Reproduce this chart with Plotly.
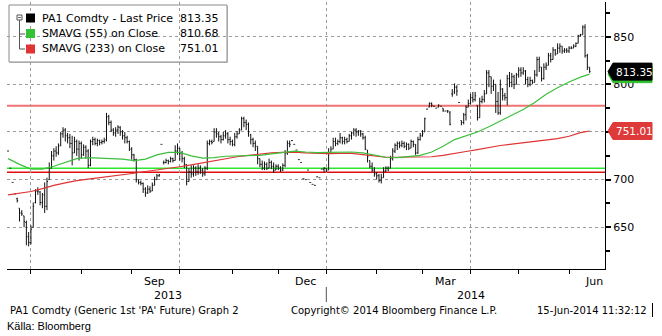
import pandas as pd
import plotly.graph_objects as go

# ---------------------------------------------------------------------------
# Data: PA1 Comdty (generic 1st palladium future), daily bars Jun-2013 .. Jun-2014
# ---------------------------------------------------------------------------
holidays = ["2013-07-04", "2013-11-28", "2013-12-25", "2014-01-01", "2014-04-18"]
trade_days = pd.bdate_range("2013-06-17", "2014-06-13")
trade_days = trade_days[~trade_days.isin(pd.to_datetime(holidays))]

open_px = [
    730, 712, 697, 685, 680, 670, 665, 662, 655, 640,
    634, 650, 676, 688, 687, 676, 684, 672, 700, 712,
    725, 730, 728, 736, 748, 752, 746, 744, 738, 728,
    740, 732, 738, 726, 734, 730, 715, 740, 742, 738,
    741, 739, 740, 742, 766, 760, 752, 749, 752, 755,
    750, 746, 744, 740, 732, 726, 721, 700, 697, 696,
    690, 686, 690, 688, 694, 700, 704, 737, 718, 718,
    720, 719, 722, 720, 730, 733, 728, 722, 716, 698,
    708, 706, 712, 708, 712, 710, 706, 712, 738, 740,
    740, 750, 748, 745, 742, 746, 748, 742, 740, 737,
    745, 748, 752, 764, 760, 758, 747, 742, 738, 735,
    722, 716, 712, 716, 712, 718, 714, 710, 714, 712,
    710, 715, 728, 738, 741, 737, 731, 721, 718, 701,
    700, 710, 697, 695, 694, 703, 702, 711, 711, 712,
    710, 728, 732, 740, 738, 740, 744, 740, 742, 740,
    746, 749, 752, 750, 751, 748, 744, 731, 720, 714,
    710, 706, 704, 699, 702, 709, 712, 712, 722, 730,
    736, 738, 736, 738, 735, 737, 733, 740, 737, 728,
    742, 746, 750, 774, 776, 780, 777, 775, 776, 777,
    775, 772, 772, 770, 790, 792, 797, 781, 762, 760,
    768, 776, 780, 786, 784, 778, 765, 782, 784, 790,
    812, 808, 798, 800, 782, 770, 795, 788, 786, 806,
    802, 808, 800, 810, 815, 812, 814, 805, 800, 804,
    802, 810, 826, 818, 806, 818, 820, 830, 826, 836,
    832, 838, 840, 835, 836, 835, 838, 838, 840, 843,
    851, 852, 860, 830, 818,
]
high_px = [
    730, 712, 697, 685, 681, 670, 668, 662, 657, 645,
    652, 676, 690, 692, 688, 686, 697, 702, 718, 730,
    733, 735, 738, 750, 755, 754, 749, 748, 746, 745,
    742, 741, 740, 737, 736, 732, 742, 745, 744, 743,
    742, 742, 744, 770, 768, 762, 754, 755, 757, 756,
    752, 750, 746, 741, 734, 727, 722, 700, 699, 697,
    692, 694, 693, 697, 703, 706, 706, 737, 720, 722,
    721, 724, 723, 736, 738, 733, 730, 724, 716, 712,
    715, 715, 714, 716, 715, 712, 714, 741, 742, 742,
    754, 754, 750, 747, 750, 752, 750, 745, 742, 749,
    751, 754, 766, 766, 763, 760, 748, 744, 741, 735,
    722, 720, 719, 718, 722, 720, 718, 716, 716, 714,
    717, 731, 741, 741, 741, 737, 731, 721, 718, 701,
    700, 710, 697, 695, 694, 703, 702, 711, 713, 712,
    733, 735, 744, 744, 742, 749, 745, 745, 744, 748,
    750, 754, 754, 752, 752, 749, 746, 731, 720, 718,
    713, 708, 706, 706, 713, 714, 714, 725, 733, 738,
    740, 740, 741, 740, 739, 738, 742, 741, 737, 745,
    749, 752, 765, 774, 781, 781, 777, 775, 779, 777,
    775, 772, 773, 772, 795, 801, 799, 781, 762, 770,
    778, 784, 790, 792, 792, 778, 786, 788, 794, 815,
    815, 808, 805, 800, 792, 805, 796, 791, 810, 813,
    812, 810, 812, 818, 818, 818, 815, 808, 808, 805,
    815, 829, 829, 818, 822, 823, 833, 833, 839, 837,
    843, 843, 840, 838, 838, 840, 840, 842, 844, 852,
    853, 862, 863, 832, 818,
]
low_px = [
    730, 712, 697, 685, 676, 656, 662, 650, 631, 630,
    632, 650, 675, 684, 673, 670, 665, 668, 700, 712,
    720, 724, 726, 735, 744, 740, 738, 733, 715, 728,
    725, 720, 722, 725, 722, 712, 714, 736, 736, 735,
    736, 737, 738, 740, 757, 750, 746, 745, 748, 746,
    742, 738, 738, 730, 721, 719, 697, 695, 694, 686,
    682, 685, 686, 688, 694, 700, 703, 737, 716, 717,
    716, 718, 718, 720, 726, 720, 718, 712, 694, 698,
    702, 703, 704, 705, 706, 703, 704, 710, 736, 737,
    740, 744, 740, 738, 741, 743, 738, 736, 735, 735,
    743, 748, 752, 755, 752, 745, 737, 734, 730, 716,
    713, 710, 710, 710, 712, 711, 707, 710, 710, 708,
    709, 713, 726, 734, 741, 737, 731, 721, 718, 701,
    700, 710, 697, 695, 694, 703, 702, 711, 708, 708,
    710, 728, 732, 735, 736, 738, 737, 737, 738, 740,
    742, 746, 745, 746, 745, 742, 731, 718, 712, 708,
    703, 700, 697, 696, 702, 708, 709, 712, 720, 728,
    731, 733, 734, 733, 731, 731, 733, 734, 726, 727,
    741, 745, 750, 774, 776, 776, 777, 775, 776, 777,
    771, 772, 770, 757, 787, 790, 788, 781, 757, 758,
    762, 776, 779, 781, 782, 762, 765, 780, 781, 790,
    797, 790, 793, 770, 768, 768, 783, 783, 778, 797,
    797, 795, 800, 807, 808, 810, 800, 797, 798, 800,
    802, 808, 813, 803, 805, 815, 820, 823, 826, 830,
    832, 833, 832, 833, 833, 833, 837, 838, 839, 843,
    850, 852, 828, 815, 812,
]
close_px = [
    730, 712, 697, 685, 678, 665, 664, 656, 640, 634,
    648, 672, 688, 688, 676, 684, 672, 698, 712, 725,
    730, 728, 735, 748, 752, 746, 744, 738, 728, 740,
    732, 738, 726, 734, 730, 715, 740, 742, 738, 741,
    739, 740, 741, 766, 760, 752, 749, 752, 755, 750,
    746, 744, 740, 732, 726, 721, 700, 697, 696, 690,
    686, 690, 688, 694, 700, 704, 705, 737, 718, 720,
    719, 722, 720, 730, 733, 728, 722, 716, 698, 708,
    706, 712, 708, 712, 710, 706, 712, 738, 740, 739,
    750, 748, 745, 742, 746, 748, 742, 740, 737, 745,
    748, 752, 764, 760, 758, 750, 742, 738, 735, 722,
    716, 712, 716, 712, 718, 714, 710, 714, 712, 710,
    715, 728, 738, 737, 741, 737, 731, 721, 718, 701,
    700, 710, 697, 695, 694, 703, 702, 711, 712, 710,
    728, 732, 740, 738, 740, 744, 740, 742, 740, 746,
    749, 752, 750, 751, 748, 744, 732, 724, 714, 710,
    706, 704, 699, 702, 709, 712, 710, 722, 730, 736,
    738, 736, 738, 735, 737, 733, 740, 737, 728, 742,
    746, 748, 764, 774, 780, 778, 777, 775, 778, 777,
    773, 772, 772, 758, 790, 797, 793, 781, 760, 768,
    776, 780, 786, 784, 788, 765, 782, 784, 790, 812,
    808, 798, 800, 782, 770, 795, 788, 786, 806, 802,
    808, 800, 810, 815, 812, 814, 805, 800, 804, 802,
    810, 826, 818, 806, 818, 820, 830, 826, 836, 832,
    838, 840, 835, 836, 835, 838, 838, 840, 843, 851,
    852, 860, 830, 818, 813.35,
]

# Moving averages sampled every 5th session (plus the last session)
sma55 = [
    722, 716, 711, 711, 714, 718, 722, 723, 722.5, 722,
    721.5, 720, 721.5, 726, 728.5, 728.5, 725, 722.5, 723, 724.5,
    725, 725, 725.5, 727, 728.5, 730, 729, 728.3, 728.5, 729,
    729, 728, 726, 723.5, 723, 724.5, 725.5, 729, 735, 742,
    746, 750, 755.5, 761.5, 767, 773.5, 781, 789.5, 796.5, 802.5,
    807.5, 810.68,
]
sma233 = [
    684, 685.5, 687.5, 690.5, 694, 696.5, 699, 700.5, 702, 703.2,
    705, 706.7, 708.5, 710, 711.8, 713.5, 715.5, 717.5, 720, 722.3,
    724, 725.5, 727, 728, 728.5, 728.7, 728, 727.5, 727.2, 727.5,
    727.5, 726.2, 725, 723.5, 723.5, 723.8, 723.5, 724, 725.5, 727.8,
    729.5, 731.5, 734, 735.8, 737.3, 738.8, 740, 741.2, 743, 745.5,
    749.3, 751.01,
]
ma_days = list(trade_days[::5]) + [trade_days[-1]]

# Horizontal reference levels drawn on the chart
resistance_level = 777.5
support_levels = [(712.0, "#2ee62e"), (707.7, "#e01010")]

legend_rows = [
    ("PA1 Comdty - Last Price", "813.35", "#000000"),
    ("SMAVG (55) on Close", "810.68", "#33c233"),
    ("SMAVG (233) on Close", "751.01", "#e03333"),
]

y_ticks = [650, 700, 750, 800, 850]
y_tick_text = ["650", "700", "", "800", "850"]   # 750 sits under the SMA flag
y_minor = [625, 675, 725, 775, 825, 875]
quarter_lines = ["2013-07-01", "2013-10-01", "2014-01-02", "2014-04-01"]
month_labels = [("2013-09-16", "Sep"), ("2013-12-18", "Dec"),
                ("2014-03-17", "Mar"), ("2014-06-17", "Jun")]

# ---------------------------------------------------------------------------
W, H = 662, 336
L, R, T, B = 7, 605, 2, 269
FONT = "DejaVu Sans"


def px(x):
    return (x - L) / (R - L)


def py(y):
    return (B - y) / (B - T)


firsts = pd.Series(trade_days, index=trade_days).groupby(trade_days.to_period("M")).first()
month_ticks = [d for d in firsts if d >= pd.Timestamp("2013-07-01")]

fig = go.Figure()

fig.add_trace(go.Scatter(x=ma_days, y=sma233, mode="lines",
                         line=dict(color="#e03333", width=1.2), hoverinfo="skip"))
fig.add_trace(go.Scatter(x=ma_days, y=sma55, mode="lines",
                         line=dict(color="#3cbf3c", width=1.2), hoverinfo="skip"))
fig.add_trace(go.Ohlc(
    x=trade_days, open=open_px, high=high_px, low=low_px, close=close_px,
    increasing=dict(line=dict(color="#111111", width=1)),
    decreasing=dict(line=dict(color="#111111", width=1)),
    tickwidth=0.4,
))

shapes = []
# legend frame
shapes.append(dict(type="rect", xref="paper", yref="paper",
                   x0=px(10), x1=px(228), y0=py(63), y1=py(6),
                   line=dict(width=0), fillcolor="#c8c8c8", layer="below"))
shapes.append(dict(type="rect", xref="paper", yref="paper",
                   x0=px(9), x1=px(227), y0=py(62), y1=py(5),
                   line=dict(color="#8a8a8a", width=1), fillcolor="white", layer="below"))
# tree glyph in the legend
shapes.append(dict(type="rect", xref="paper", yref="paper",
                   x0=px(17), x1=px(22), y0=py(20), y1=py(15),
                   line=dict(color="#555555", width=1), fillcolor="white", layer="above"))
shapes.append(dict(type="line", xref="paper", yref="paper",
                   x0=px(18.2), x1=px(20.8), y0=py(17.5), y1=py(17.5),
                   line=dict(color="#555555", width=1), layer="above"))
shapes.append(dict(type="path", xref="paper", yref="paper",
                   path=f"M {px(19.5)},{py(20)} L {px(19.5)},{py(49)} L {px(25)},{py(49)} "
                        f"M {px(19.5)},{py(34)} L {px(25)},{py(34)}",
                   line=dict(color="#555555", width=1), layer="above"))
# legend colour swatches
for k, (_, _, col) in enumerate(legend_rows):
    yc = 18 + k * 15.5
    shapes.append(dict(type="rect", xref="paper", yref="paper",
                       x0=px(26), x1=px(35), y0=py(yc + 4.5), y1=py(yc - 4.5),
                       line=dict(width=0), fillcolor=col, layer="above"))

# horizontal levels
shapes.append(dict(type="line", xref="paper", yref="y", x0=0, x1=1,
                   y0=resistance_level, y1=resistance_level,
                   line=dict(color="#f07272", width=2.2), layer="below"))
for lvl, col in support_levels:
    shapes.append(dict(type="line", xref="paper", yref="y", x0=0, x1=1,
                       y0=lvl, y1=lvl, line=dict(color=col, width=1.6), layer="below"))

# value flags on the right axis
tag_path = "M 3,0 L 8,8.5 L 47,8.5 L 47,-8.5 L 8,-8.5 Z"
for val, col in [(751.01, "#df3a3a"), (810.68, "#2fbf2f"), (813.35, "#000000")]:
    shapes.append(dict(type="path", xref="paper", yref="y",
                       xsizemode="pixel", ysizemode="pixel", xanchor=1, yanchor=val,
                       path=tag_path, fillcolor=col, line=dict(color=col, width=1),
                       layer="above"))

# year separator below the axis
shapes.append(dict(type="line", xref="x", yref="paper",
                   x0="2014-01-02", x1="2014-01-02", y0=py(287), y1=py(302),
                   line=dict(color="#555555", width=1)))
# cursor mark after the time stamp
shapes.append(dict(type="line", xref="paper", yref="paper",
                   x0=px(652.5), x1=px(652.5), y0=py(303), y1=py(317),
                   line=dict(color="#000000", width=1)))

annotations = []
for k, (name, val, _) in enumerate(legend_rows):
    yc = 18 + k * 15.5
    annotations.append(dict(xref="paper", yref="paper", x=px(40), y=py(yc),
                            text=name, showarrow=False, xanchor="left", yanchor="middle",
                            font=dict(family=FONT, size=11, color="#000000")))
    annotations.append(dict(xref="paper", yref="paper", x=px(221), y=py(yc),
                            text=val, showarrow=False, xanchor="right", yanchor="middle",
                            font=dict(family=FONT, size=11, color="#000000")))

for val in [813.35, 751.01]:
    annotations.append(dict(xref="paper", yref="y", x=1, y=val, xshift=9,
                            text=f"{val:.2f}", showarrow=False, xanchor="left",
                            yanchor="middle",
                            font=dict(family=FONT, size=10.5, color="white")))

for d, lab in month_labels:
    annotations.append(dict(xref="x", yref="paper", x=d, y=py(281), text=lab,
                            showarrow=False, xanchor="center", yanchor="middle",
                            font=dict(family=FONT, size=11, color="#000000")))
for xc, lab in [(168, "2013"), (471, "2014")]:
    annotations.append(dict(xref="paper", yref="paper", x=px(xc), y=py(295), text=lab,
                            showarrow=False, xanchor="center", yanchor="middle",
                            font=dict(family=FONT, size=11, color="#000000")))

footer = [
    (8, "PA1 Comdty (Generic 1st 'PA' Future) Graph 2"),
    (289, "Copyright\u00a9 2014 Bloomberg Finance L.P."),
    (535, "15-Jun-2014 11:32:12"),
]
for xl, txt in footer:
    annotations.append(dict(xref="paper", yref="paper", x=px(xl), y=py(310), text=txt,
                            showarrow=False, xanchor="left", yanchor="middle",
                            font=dict(family=FONT, size=10, color="#000000")))
annotations.append(dict(xref="paper", yref="paper", x=px(5), y=py(326),
                        text="K\u00e4lla: Bloomberg", showarrow=False,
                        xanchor="left", yanchor="middle",
                        font=dict(family="Liberation Sans", size=11, color="#000000")))

fig.update_layout(
    width=W, height=H,
    margin=dict(l=L, r=W - R, t=T, b=H - B),
    paper_bgcolor="white", plot_bgcolor="white",
    showlegend=False,
    shapes=shapes,
    annotations=annotations,
    xaxis=dict(
        type="date",
        range=["2013-06-14 13:00", "2014-06-23 17:00"],
        rangebreaks=[dict(bounds=["sat", "mon"]), dict(values=holidays)],
        rangeslider=dict(visible=False),
        tickvals=quarter_lines, ticktext=[""] * len(quarter_lines),
        ticks="outside", ticklen=4, tickcolor="#000000",
        showgrid=True, gridcolor="#9c9c9c", griddash="dot", gridwidth=1,
        minor=dict(tickvals=month_ticks, ticks="outside", ticklen=4,
                   tickcolor="#000000", showgrid=False),
        showline=True, linecolor="#000000", linewidth=1,
        zeroline=False, fixedrange=True,
    ),
    yaxis=dict(
        side="right",
        range=[606.2, 886.4],
        tickvals=y_ticks, ticktext=y_tick_text,
        ticks="outside", ticklen=5, tickwidth=2, tickcolor="#000000",
        tickfont=dict(family=FONT, size=11, color="#000000"),
        showgrid=True, gridcolor="#9c9c9c", griddash="dot", gridwidth=1,
        minor=dict(tickvals=y_minor, ticks="outside", ticklen=4,
                   tickcolor="#000000", showgrid=False),
        showline=True, linecolor="#000000", linewidth=1,
        zeroline=False, fixedrange=True,
    ),
)

fig.write_html("out.html")
